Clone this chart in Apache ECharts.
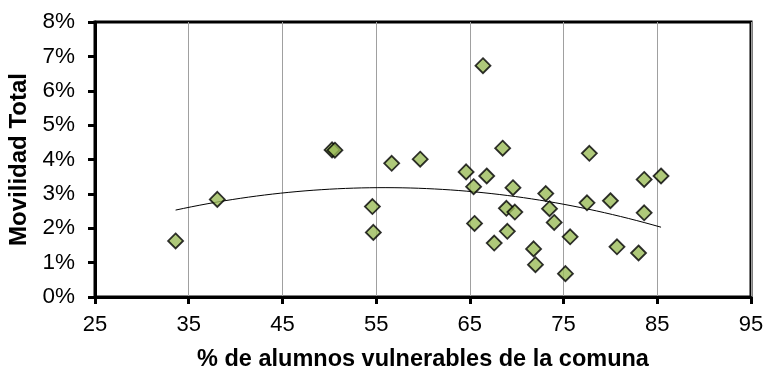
<!DOCTYPE html>
<html>
<head>
<meta charset="utf-8">
<script src="https://cdn.jsdelivr.net/npm/echarts@6/dist/echarts.min.js"></script>
<style>
  html, body { margin: 0; padding: 0; background: #fff; }
  #chart { width: 765px; height: 370px; }
</style>
</head>
<body>
<div id="chart"></div>
<script>
// % de alumnos vulnerables por comuna
var vulnerables = [
  33.6, 38.05, 50.3, 50.6, 54.6, 54.7, 56.66, 59.7,
  66.4, 64.6, 66.8, 68.5, 65.4, 69.6, 73.1, 77.75,
  83.6, 85.4, 77.5, 80.0, 83.6, 68.9, 69.8, 73.5,
  74.0, 65.5, 69.0, 67.6, 75.7, 71.8, 72.0, 75.2,
  80.7, 83.0
];
// Movilidad total (%) de cada comuna
var movilidad = [
  1.63, 2.84, 4.28, 4.27, 2.63, 1.88, 3.89, 4.01,
  6.73, 3.64, 3.52, 4.33, 3.21, 3.18, 3.01, 4.18,
  3.42, 3.52, 2.74, 2.80, 2.45, 2.58, 2.47, 2.57,
  2.17, 2.14, 1.91, 1.57, 1.75, 1.40, 0.94, 0.68,
  1.46, 1.28
];
var xTicks = [25, 35, 45, 55, 65, 75, 85, 95];
var yTicks = [0, 1, 2, 3, 4, 5, 6, 7, 8];

var points = vulnerables.map(function (x, i) { return [x, movilidad[i]]; });

// Polynomial (order 2) least-squares trend line over the observed range
function quadFit(xs, ys) {
  var n = xs.length, s = [0, 0, 0, 0, 0], t = [0, 0, 0];
  for (var i = 0; i < n; i++) {
    var p = 1;
    for (var k = 0; k < 5; k++) { s[k] += p; if (k < 3) t[k] += p * ys[i]; p *= xs[i]; }
  }
  var A = [[s[0], s[1], s[2], t[0]], [s[1], s[2], s[3], t[1]], [s[2], s[3], s[4], t[2]]];
  for (var c = 0; c < 3; c++) {
    for (var r = c + 1; r < 3; r++) {
      var f = A[r][c] / A[c][c];
      for (var j = c; j < 4; j++) A[r][j] -= f * A[c][j];
    }
  }
  var b = [0, 0, 0];
  for (var r2 = 2; r2 >= 0; r2--) {
    var v = A[r2][3];
    for (var j2 = r2 + 1; j2 < 3; j2++) v -= A[r2][j2] * b[j2];
    b[r2] = v / A[r2][r2];
  }
  return b;
}
var coef = quadFit(vulnerables, movilidad);
var xMin = Math.min.apply(null, vulnerables), xMax = Math.max.apply(null, vulnerables);
var trend = [];
for (var i = 0; i <= 60; i++) {
  var x = xMin + (xMax - xMin) * i / 60;
  trend.push([x, coef[0] + coef[1] * x + coef[2] * x * x]);
}

var chart = echarts.init(document.getElementById('chart'), null, { renderer: 'canvas' });
chart.setOption({
  animation: false,
  backgroundColor: '#ffffff',
  textStyle: { fontFamily: 'Liberation Sans, Arial, sans-serif' },
  grid: {
    left: 95, right: 14, top: 22, bottom: 73,
    outerBoundsMode: 'none', containLabel: false,
    show: true, borderColor: '#000', borderWidth: 3, backgroundColor: 'transparent'
  },
  xAxis: {
    type: 'value', min: xTicks[0], max: xTicks[xTicks.length - 1], interval: 10,
    name: '% de alumnos vulnerables de la comuna',
    nameLocation: 'middle', nameGap: 51,
    nameTextStyle: { fontSize: 23.5, fontWeight: 'bold', color: '#000' },
    axisLine: { show: true, lineStyle: { color: '#000', width: 3 } },
    axisTick: { show: true, length: 7, lineStyle: { color: '#000', width: 3 } },
    axisLabel: { fontSize: 22, color: '#000', margin: 17 },
    splitLine: { show: true, lineStyle: { color: '#a0a0a0', width: 1 } }
  },
  yAxis: {
    type: 'value', min: yTicks[0], max: yTicks[yTicks.length - 1], interval: 1,
    name: 'Movilidad Total',
    nameLocation: 'middle', nameGap: 62, nameRotate: 90,
    nameTextStyle: { fontSize: 24, fontWeight: 'bold', color: '#000' },
    axisLine: { show: true, lineStyle: { color: '#000', width: 3 } },
    axisTick: { show: true, length: 7, lineStyle: { color: '#000', width: 3 } },
    axisLabel: { fontSize: 22.5, color: '#000', margin: 20, formatter: '{value}%' },
    splitLine: { show: false }
  },
  series: [
    {
      type: 'line', data: trend, showSymbol: false, smooth: false,
      lineStyle: { color: '#000', width: 1 }, z: 3, silent: true
    },
    {
      type: 'scatter', data: points, symbol: 'diamond', symbolSize: 15,
      itemStyle: { color: '#9bbb59', borderColor: '#000', borderWidth: 1.8 }, z: 4
    }
  ]
});
</script>
</body>
</html>
